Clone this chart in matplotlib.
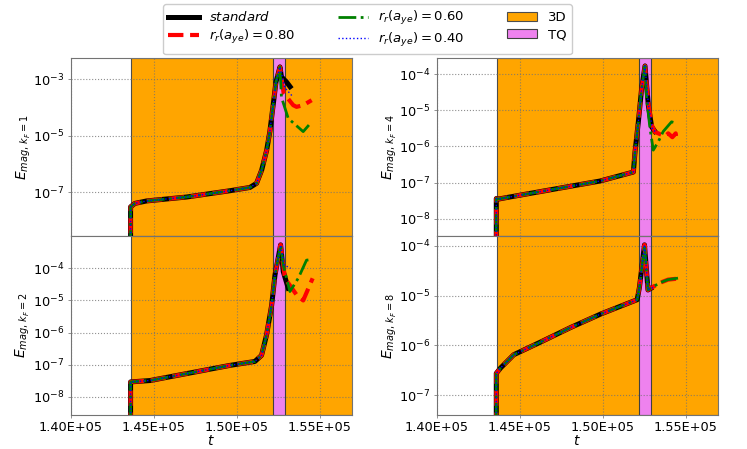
import matplotlib
matplotlib.use("Agg")
import matplotlib.pyplot as plt
from matplotlib.ticker import FuncFormatter

# ---------------- data (t, E) ----------------
t_start = 1.4361e5          # start of 3D phase / data
tq_start, tq_end = 1.5220e5, 1.5293e5
xlim = (1.40e5, 1.5695e5)

# k_F = 1
k1_base_t = [1.4361e5, 1.4361e5, 1.4387e5, 1.4457e5, 1.4699e5, 1.4960e5, 1.5080e5,
             1.5120e5, 1.5151e5, 1.5181e5, 1.5200e5, 1.5220e5, 1.5237e5, 1.5261e5]
k1_base_E = [1e-10, 3.1e-8, 4.1e-8, 5.0e-8, 6.9e-8, 1.15e-7, 1.5e-7,
             2.1e-7, 6.2e-7, 3.1e-6, 1.4e-5, 1.2e-4, 7.9e-4, 2.7e-3]
k1_std_t = [1.5270e5, 1.5300e5, 1.5322e5]
k1_std_E = [1.2e-3, 8.0e-4, 5.4e-4]
k1_r80_t = [1.5283e5, 1.5341e5, 1.5361e5, 1.5401e5, 1.5452e5]
k1_r80_E = [3.2e-4, 1.2e-4, 1.05e-4, 1.2e-4, 1.8e-4]
k1_r60_t = [1.5270e5, 1.5311e5, 1.5401e5, 1.5452e5]
k1_r60_E = [2.3e-4, 4.1e-5, 1.4e-5, 3.1e-5]
k1_r40_t = [1.5290e5, 1.5341e5]
k1_r40_E = [5.0e-4, 2.3e-4]

# k_F = 4
k4_base_t = [1.4359e5, 1.4359e5, 1.4375e5, 1.4444e5, 1.4984e5, 1.5185e5, 1.5195e5,
             1.5215e5, 1.5235e5, 1.5255e5]
k4_base_E = [1e-10, 3.6e-8, 3.5e-8, 4.0e-8, 1.1e-7, 1.95e-7, 7.1e-7,
             4.8e-6, 4.1e-5, 1.7e-4]
k4_std_t = [1.5275e5, 1.5295e5, 1.5315e5]
k4_std_E = [1.4e-5, 3.5e-6, 2.6e-6]
k4_r80_t = [1.5275e5, 1.5295e5, 1.5315e5, 1.5335e5, 1.5375e5, 1.5395e5, 1.5420e5, 1.5440e5, 1.5445e5]
k4_r80_E = [1.6e-5, 4.0e-6, 2.5e-6, 2.3e-6, 1.9e-6, 2.3e-6, 1.8e-6, 2.3e-6, 1.4e-6]
k4_r60_t = [1.5265e5, 1.5285e5, 1.5305e5, 1.5335e5, 1.5365e5, 1.5415e5, 1.5445e5]
k4_r60_E = [2.1e-5, 3.2e-6, 7.9e-7, 1.35e-6, 2.6e-6, 4.8e-6, 4.4e-6]
k4_r40_t = [1.5275e5, 1.5300e5, 1.5325e5]
k4_r40_E = [1.5e-5, 3.0e-6, 2.4e-6]

# k_F = 2
k2_base_t = [1.4361e5, 1.4361e5, 1.4478e5, 1.4960e5, 1.5110e5, 1.5150e5, 1.5180e5,
             1.5211e5, 1.5231e5, 1.5265e5]
k2_base_E = [1e-10, 2.9e-8, 3.2e-8, 9.5e-8, 1.26e-7, 1.95e-7, 8.3e-7,
             7.1e-6, 6.2e-5, 5.4e-4]
k2_std_t = [1.5281e5, 1.5311e5]
k2_std_E = [7.9e-5, 2.4e-5]
k2_r80_t = [1.5291e5, 1.5361e5, 1.5401e5, 1.5458e5]
k2_r80_E = [4.9e-5, 1.5e-5, 1.0e-5, 4.9e-5]
k2_r60_t = [1.5281e5, 1.5321e5, 1.5371e5, 1.5421e5, 1.5452e5]
k2_r60_E = [1.26e-4, 1.9e-5, 4.9e-5, 1.8e-4, 1.9e-4]
k2_r40_t = [1.5285e5, 1.5325e5]
k2_r40_E = [1.3e-4, 1.0e-4]

# k_F = 8
k8_base_t = [1.4359e5, 1.4359e5, 1.4384e5, 1.4464e5, 1.4626e5, 1.4808e5, 1.4990e5,
             1.5208e5, 1.5222e5, 1.5252e5]
k8_base_E = [1e-10, 2.75e-7, 3.5e-7, 6.5e-7, 1.17e-6, 2.3e-6, 4.3e-6,
             8.3e-6, 1.5e-5, 1.05e-4]
k8_std_t = [1.5273e5, 1.5290e5]
k8_std_E = [1.3e-5, 1.4e-5]
k8_r80_t = [1.5273e5, 1.5303e5, 1.5343e5, 1.5394e5, 1.5454e5]
k8_r80_E = [1.3e-5, 1.5e-5, 1.8e-5, 2.1e-5, 2.2e-5]
k8_r60_t = [1.5273e5, 1.5303e5, 1.5343e5, 1.5394e5, 1.5454e5]
k8_r60_E = [1.3e-5, 1.5e-5, 1.8e-5, 2.1e-5, 2.25e-5]
k8_r40_t = [1.5273e5, 1.5310e5]
k8_r40_E = [1.3e-5, 1.5e-5]

labels = [r"$standard$", r"$r_r(a_{ye}) = 0.80$", r"$r_r(a_{ye}) = 0.60$", r"$r_r(a_{ye}) = 0.40$"]
xticks = [1.40e5, 1.45e5, 1.50e5, 1.55e5]

panels = [
    dict(k=1, base=(k1_base_t, k1_base_E),
         tails=[(k1_std_t, k1_std_E), (k1_r80_t, k1_r80_E), (k1_r60_t, k1_r60_E), (k1_r40_t, k1_r40_E)],
         ylim=(2.9e-9, 5.4e-3), yticks=[1e-7, 1e-5, 1e-3]),
    dict(k=4, base=(k4_base_t, k4_base_E),
         tails=[(k4_std_t, k4_std_E), (k4_r80_t, k4_r80_E), (k4_r60_t, k4_r60_E), (k4_r40_t, k4_r40_E)],
         ylim=(3.3e-9, 2.75e-4), yticks=[1e-8, 1e-7, 1e-6, 1e-5, 1e-4]),
    dict(k=2, base=(k2_base_t, k2_base_E),
         tails=[(k2_std_t, k2_std_E), (k2_r80_t, k2_r80_E), (k2_r60_t, k2_r60_E), (k2_r40_t, k2_r40_E)],
         ylim=(2.7e-9, 1.02e-3), yticks=[1e-8, 1e-7, 1e-6, 1e-5, 1e-4]),
    dict(k=8, base=(k8_base_t, k8_base_E),
         tails=[(k8_std_t, k8_std_E), (k8_r80_t, k8_r80_E), (k8_r60_t, k8_r60_E), (k8_r40_t, k8_r40_E)],
         ylim=(4.0e-8, 1.58e-4), yticks=[1e-7, 1e-6, 1e-5, 1e-4]),
]

styles = [dict(color="black", ls="-", lw=3.6, zorder=3),
          dict(color="red", ls="--", lw=3.0, zorder=4),
          dict(color="green", ls="-.", lw=2.0, zorder=5),
          dict(color="blue", ls=":", lw=1.0, zorder=6)]

fig = plt.figure(figsize=(7.47, 4.49), dpi=100)
L1, L2, W = 0.0946, 0.5846, 0.3766
B0, BM, BT = 0.0757, 0.4744, 0.870
rects = [(L1, BM, W, BT - BM), (L2, BM, W, BT - BM),
         (L1, B0, W, BM - B0), (L2, B0, W, BM - B0)]

sci = FuncFormatter(lambda v, p: "%.2E" % v)
handles = None
for i, (p, r) in enumerate(zip(panels, rects)):
    ax = fig.add_axes(r)
    ax.set_yscale("log")
    span3d = ax.axvspan(t_start, xlim[1] + 1e4, color="orange", ec="0.3", lw=0.8, zorder=1, label="3D")
    spantq = ax.axvspan(tq_start, tq_end, fc="violet", ec="0.25", lw=0.8, zorder=1.2, label="TQ")
    bt, bE = p["base"]
    lines = []
    for (tt, EE), st, lab in zip(p["tails"], styles, labels):
        ln, = ax.plot(list(bt) + list(tt), list(bE) + list(EE), label=lab, **st)
        lines.append(ln)
    if handles is None:
        handles = lines + [span3d, spantq]
    ax.set_xlim(*xlim)
    ax.set_ylim(*p["ylim"])
    ax.set_yticks(p["yticks"])
    ax.minorticks_off()
    ax.set_xticks(xticks)
    ax.xaxis.set_major_formatter(sci)
    ax.grid(True, color="0.45", ls=":", lw=0.8, alpha=0.8)
    ax.tick_params(length=2, width=0.6, color="0.5", labelsize=9.3, pad=2.5)
    for s in ax.spines.values():
        s.set_color("0.45")
    if i < 2:
        ax.tick_params(labelbottom=False)
    else:
        ax.set_xlabel(r"$t$", fontsize=10, labelpad=0)
    ax.set_ylabel(r"$E_{mag,\,k_F=%d}$" % p["k"], fontsize=10, labelpad=0.5)

fig.legend(handles=handles, labels=labels + ["3D", "TQ"], loc="upper center",
           bbox_to_anchor=(0.492, 1.0), borderaxespad=0.3, ncol=3, fontsize=9.5,
           framealpha=1, edgecolor="0.8", handlelength=2.3, columnspacing=3.2,
           borderpad=0.4, labelspacing=0.3)

fig.savefig("out.png", dpi=100)
